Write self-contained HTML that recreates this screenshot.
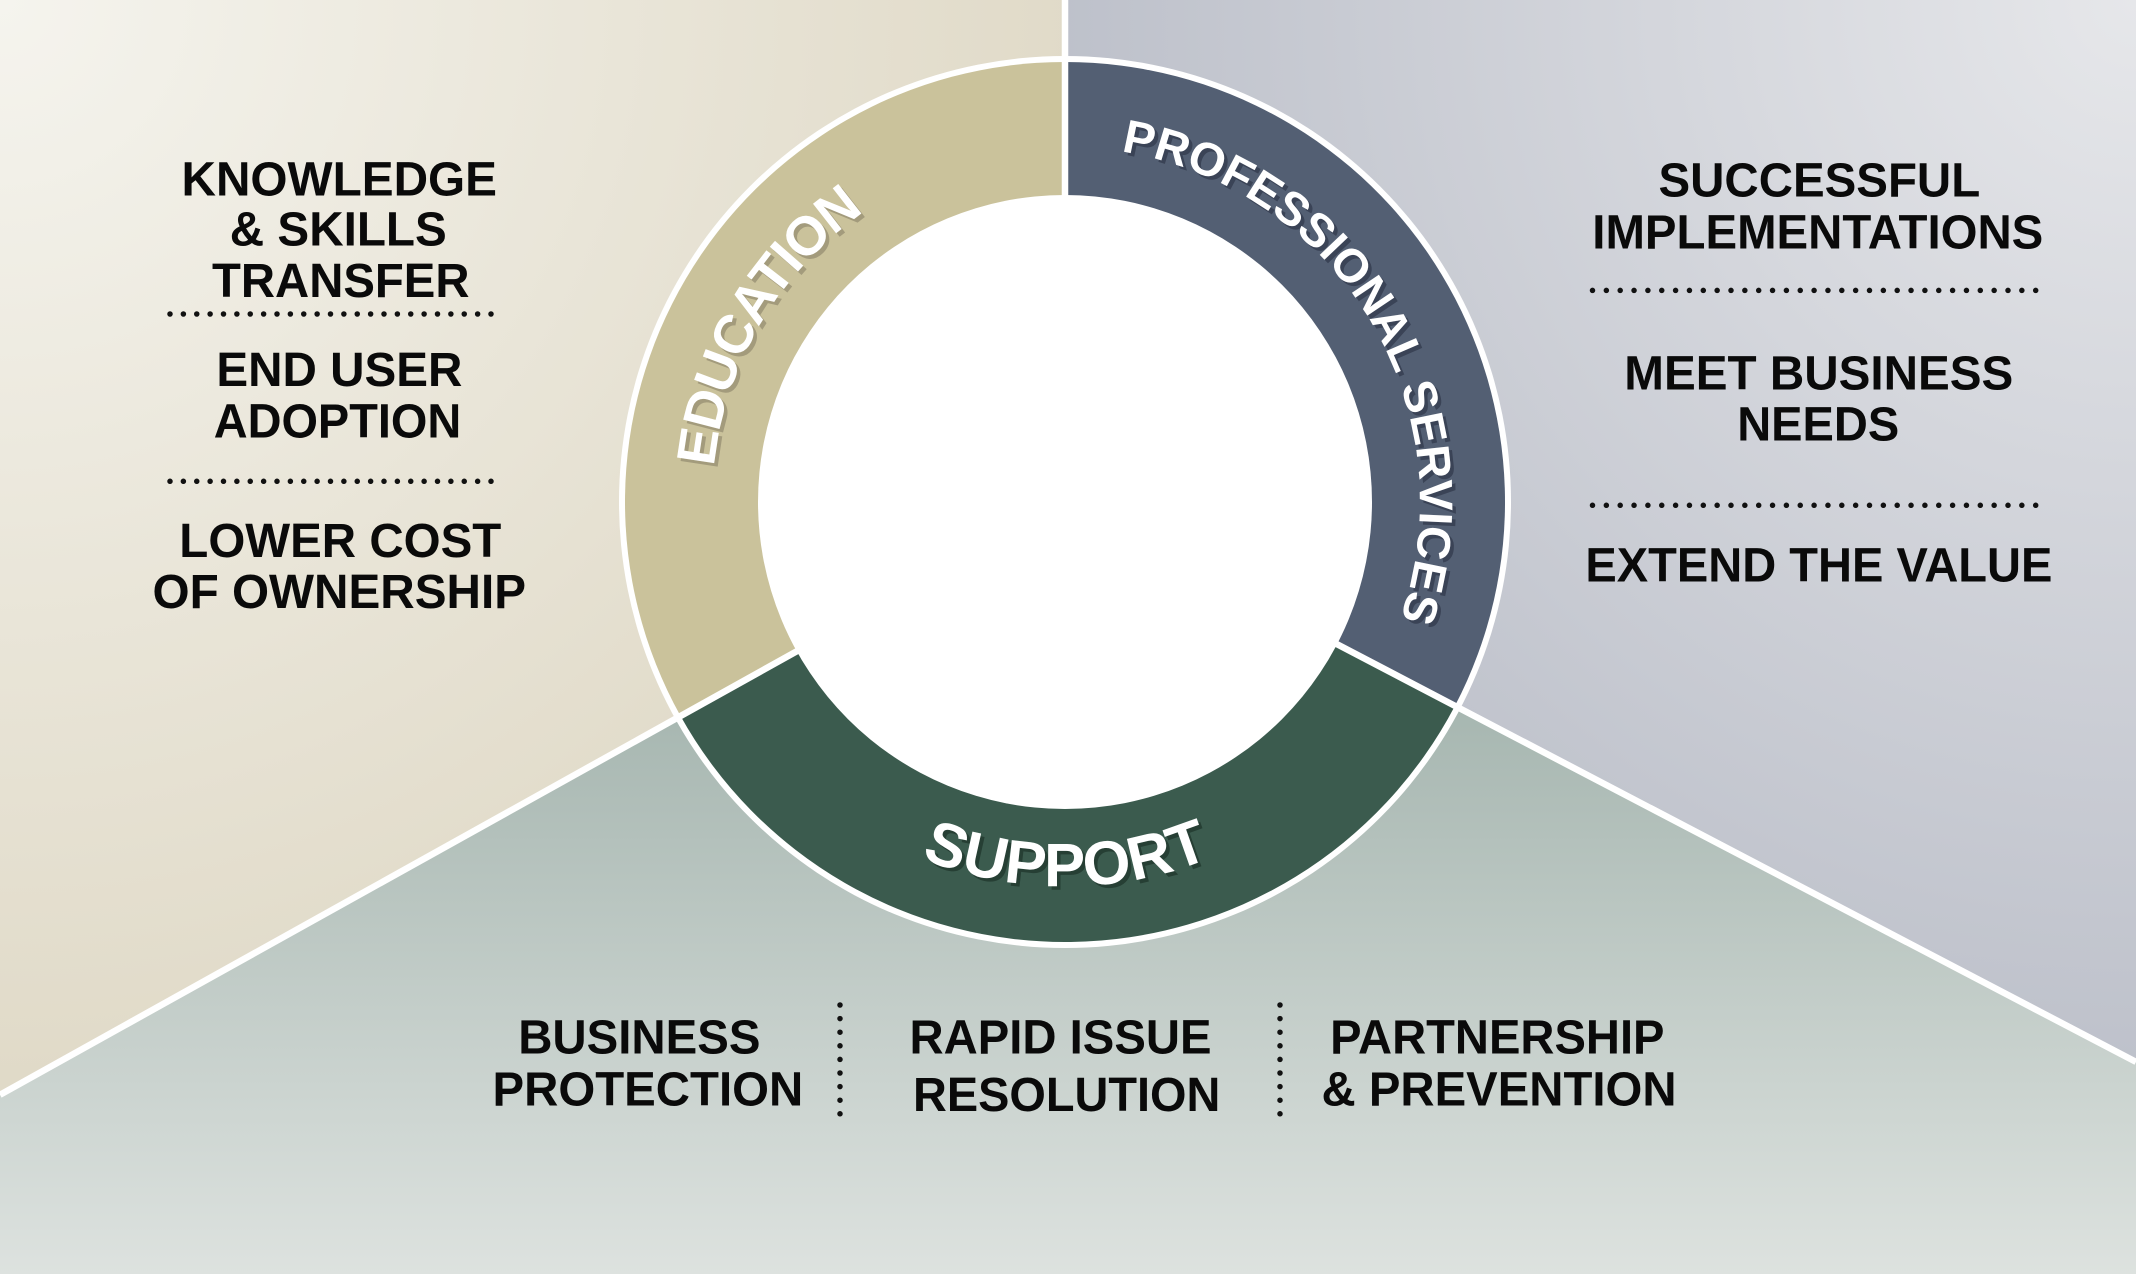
<!DOCTYPE html>
<html>
<head>
<meta charset="utf-8">
<style>
html,body{margin:0;padding:0;background:#fff;}
svg{display:block;}
text{font-family:"Liberation Sans",Arial,sans-serif;font-weight:bold;}
</style>
</head>
<body>
<svg width="2136" height="1274" viewBox="0 0 2136 1274" xmlns="http://www.w3.org/2000/svg">
<defs>
<radialGradient id="gtl" gradientUnits="userSpaceOnUse" cx="0" cy="0" r="1250">
<stop offset="0" stop-color="#f5f4ee"/>
<stop offset="1" stop-color="#ddd6c2"/>
</radialGradient>
<radialGradient id="gtr" gradientUnits="userSpaceOnUse" cx="2136" cy="0" r="1300">
<stop offset="0" stop-color="#e6e7ea"/>
<stop offset="1" stop-color="#b5b9c4"/>
</radialGradient>
<linearGradient id="gb" gradientUnits="userSpaceOnUse" x1="0" y1="700" x2="0" y2="1274">
<stop offset="0" stop-color="#a6b6b0"/>
<stop offset="1" stop-color="#dde2df"/>
</linearGradient>
<path id="pEdu" d="M 888 808.57 A 354 354 0 0 1 1242 195.43 A 354 354 0 0 1 888 808.57"/>
<path id="pPro" d="M 887.5 194.56 A 355 355 0 0 1 1242.5 809.44 A 355 355 0 0 1 887.5 194.56"/>
<path id="pSup" d="M 703.22 370.32 A 385 385 0 0 0 1426.78 633.68 A 385 385 0 0 0 703.22 370.32"/>
</defs>

<!-- backgrounds -->
<polygon points="0,0 1065,0 1065,502 0,1094.8" fill="url(#gtl)"/>
<polygon points="1065,0 2136,0 2136,1061.9 1065,502" fill="url(#gtr)"/>
<polygon points="0,1094.8 1065,502 2136,1061.9 2136,1274 0,1274" fill="url(#gb)"/>

<!-- outer white border -->
<circle cx="1065" cy="502" r="446" fill="#ffffff"/>

<!-- ring segments -->
<path d="M 1065 502 L 680.54 715.99 A 440 440 0 0 1 1065 62 Z" fill="#cac29b"/>
<path d="M 1065 502 L 1065 62 A 440 440 0 0 1 1454.93 705.85 Z" fill="#535f73"/>
<path d="M 1065 502 L 1454.93 705.85 A 440 440 0 0 1 680.54 715.99 Z" fill="#3b5b4e"/>

<!-- divider lines -->
<g stroke="#ffffff" stroke-width="6.5" fill="none">
<line x1="1065" y1="-5" x2="1065" y2="502"/>
<line x1="1065" y1="502" x2="0" y2="1094.8"/>
<line x1="1065" y1="502" x2="2136" y2="1061.9"/>
</g>

<!-- inner white disk -->
<circle cx="1065" cy="502" r="307" fill="#ffffff"/>

<!-- ring labels: shadows -->
<g transform="translate(3.5,3.5)">
<text font-size="54.5" letter-spacing="-1.8" fill="#a39b7c" text-anchor="middle"><textPath href="#pEdu" startOffset="557">EDUCATION</textPath></text>
<text font-size="47" fill="#3a4356" text-anchor="middle"><textPath href="#pPro" startOffset="552">PROFESSIONAL SERVICES</textPath></text>
<text font-size="61.5" fill="#263f34" text-anchor="middle"><textPath href="#pSup" startOffset="739.1">SUPPORT</textPath></text>
</g>
<!-- ring labels -->
<text font-size="54.5" letter-spacing="-1.8" fill="#ffffff" text-anchor="middle"><textPath href="#pEdu" startOffset="557">EDUCATION</textPath></text>
<text font-size="47" fill="#ffffff" text-anchor="middle"><textPath href="#pPro" startOffset="552">PROFESSIONAL SERVICES</textPath></text>
<text font-size="61.5" fill="#ffffff" text-anchor="middle"><textPath href="#pSup" startOffset="739.1">SUPPORT</textPath></text>

<!-- left block -->
<g fill="#0a0a0a" font-size="48">
<text x="181.5" y="195.5" textLength="315.5" lengthAdjust="spacingAndGlyphs">KNOWLEDGE</text>
<text x="229.8" y="245.5" textLength="217" lengthAdjust="spacingAndGlyphs">&amp; SKILLS</text>
<text x="212" y="297" textLength="257.5" lengthAdjust="spacingAndGlyphs">TRANSFER</text>
<text x="216.4" y="386" textLength="246" lengthAdjust="spacingAndGlyphs">END USER</text>
<text x="213.7" y="437.5" textLength="247.6" lengthAdjust="spacingAndGlyphs">ADOPTION</text>
<text x="179.3" y="557" textLength="322" lengthAdjust="spacingAndGlyphs">LOWER COST</text>
<text x="152.5" y="608" textLength="373.5" lengthAdjust="spacingAndGlyphs">OF OWNERSHIP</text>
</g>

<!-- right block -->
<g fill="#0a0a0a" font-size="48">
<text x="1658.5" y="196.6" textLength="321.7" lengthAdjust="spacingAndGlyphs">SUCCESSFUL</text>
<text x="1592.3" y="248.3" textLength="451" lengthAdjust="spacingAndGlyphs">IMPLEMENTATIONS</text>
<text x="1624.3" y="389.6" textLength="389" lengthAdjust="spacingAndGlyphs">MEET BUSINESS</text>
<text x="1737.2" y="440.3" textLength="162" lengthAdjust="spacingAndGlyphs">NEEDS</text>
<text x="1585.4" y="581.6" textLength="467" lengthAdjust="spacingAndGlyphs">EXTEND THE VALUE</text>
</g>

<!-- bottom block -->
<g fill="#0a0a0a" font-size="48">
<text x="518.2" y="1053.6" textLength="242.3" lengthAdjust="spacingAndGlyphs">BUSINESS</text>
<text x="492.5" y="1105.5" textLength="310.7" lengthAdjust="spacingAndGlyphs">PROTECTION</text>
<text x="909.5" y="1053.6" textLength="302" lengthAdjust="spacingAndGlyphs">RAPID ISSUE</text>
<text x="913" y="1111" textLength="307.3" lengthAdjust="spacingAndGlyphs">RESOLUTION</text>
<text x="1330.1" y="1053.6" textLength="334.4" lengthAdjust="spacingAndGlyphs">PARTNERSHIP</text>
<text x="1321.5" y="1105.5" textLength="355" lengthAdjust="spacingAndGlyphs">&amp; PREVENTION</text>
</g>

<!-- dotted separators -->
<g stroke="#111111" stroke-width="5.5" stroke-linecap="round" stroke-dasharray="0 13.375" fill="none">
<line x1="170" y1="314" x2="491.5" y2="314"/>
<line x1="170" y1="481.3" x2="491.5" y2="481.3"/>
</g>
<g stroke="#111111" stroke-width="5.5" stroke-linecap="round" stroke-dasharray="0 13.85" fill="none">
<line x1="1592.5" y1="290.4" x2="2037.5" y2="290.4"/>
<line x1="1592.5" y1="505.3" x2="2037.5" y2="505.3"/>
</g>
<g stroke="#111111" stroke-width="5.5" stroke-linecap="round" stroke-dasharray="0 13.6" fill="none">
<line x1="840" y1="1005" x2="840" y2="1116"/>
<line x1="1280" y1="1005" x2="1280" y2="1116"/>
</g>
</svg>
</body>
</html>
